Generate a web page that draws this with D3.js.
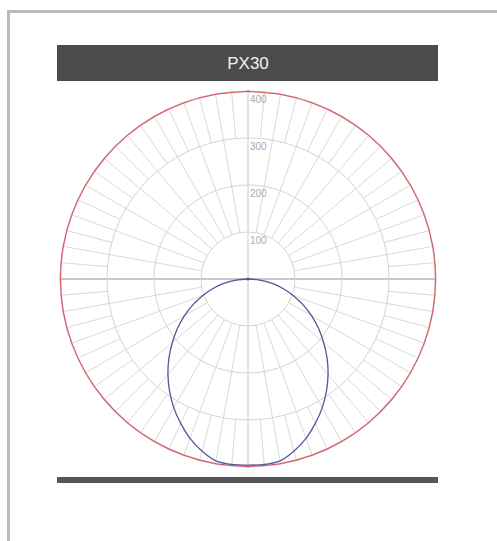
<!DOCTYPE html>
<html>
<head>
<meta charset="utf-8">
<script src="https://cdn.jsdelivr.net/npm/d3@7"></script>
<style>
  body { margin: 0; background: #fff; }
  text { font-family: "Liberation Sans", Arial, sans-serif; }
</style>
</head>
<body>
<div id="chart"></div>
<script>
// luminaire name
var title = "PX30";

// ring values (cd)
var rings = [100, 200, 300, 400];
var ringLabels = ["100", "200", "300", "400"];

// angles from nadir, degrees
var angles = [0, 5, 10, 15, 20, 25, 30, 35, 40, 45, 50, 55, 60, 65, 70, 75, 80, 85, 90];

// C0-C180 plane (blue), symmetric
var bluePlane = [396, 396, 393, 379, 361, 339, 316, 291, 265, 238, 210, 183, 156, 129, 102, 76, 51, 25, 0];

// C90-C270 plane (red), all round
var redAngles = [0, 10, 20, 30, 40, 50, 60, 70, 80, 90, 100, 110, 120, 130, 140, 150, 160, 170, 180];
var redPlane = [399, 399, 399, 399, 399, 399, 399, 399, 399, 399, 399, 399, 399, 399, 399, 399, 399, 399, 399];

var width = 497, height = 541;
var cx = 248, cy = 279;

var svg = d3.select("#chart").append("svg")
  .attr("width", width)
  .attr("height", height);

// frame
svg.append("path")
  .attr("d", "M8.5," + height + "V11.5H" + width)
  .style("fill", "none")
  .style("stroke", "#bcbcbc")
  .style("stroke-width", 3);

// title bar
svg.append("rect")
  .attr("x", 57).attr("y", 45)
  .attr("width", 381).attr("height", 36)
  .style("fill", "#4b4b4b");
svg.append("text")
  .attr("x", 248).attr("y", 69)
  .attr("text-anchor", "middle")
  .style("font-size", "17px")
  .style("fill", "#f2f2f2")
  .text(title);

// bottom bar
svg.append("rect")
  .attr("x", 57).attr("y", 477)
  .attr("width", 381).attr("height", 6)
  .style("fill", "#555");

var r = d3.scaleLinear().domain([0, 400]).range([0, 188]);

var g = svg.append("g").attr("transform", "translate(" + cx + "," + cy + ")");

function rad(deg) { return deg * Math.PI / 180; }

// radial grid lines: every 10 deg from first ring, odd 5 deg from third ring
var spokes = d3.range(0, 360, 5);
function spokeStart(a) { return a % 10 === 0 ? r(100) : r(300); }
g.selectAll(".spoke")
  .data(spokes.filter(function (a) { return a % 90 !== 0; }))
  .enter().append("line")
  .attr("class", "spoke")
  .attr("x1", function (a) { return spokeStart(a) * Math.sin(rad(a)); })
  .attr("y1", function (a) { return -spokeStart(a) * Math.cos(rad(a)); })
  .attr("x2", function (a) { return r(400) * Math.sin(rad(a)); })
  .attr("y2", function (a) { return -r(400) * Math.cos(rad(a)); })
  .style("stroke", "#d9d9d9")
  .style("stroke-width", 1);

// main axes
g.append("line")
  .attr("x1", -r(400)).attr("x2", r(400)).attr("y1", 0).attr("y2", 0)
  .style("stroke", "#c8c8c8").style("stroke-width", 2);
g.append("line")
  .attr("x1", 0).attr("x2", 0).attr("y1", -r(400)).attr("y2", r(400))
  .style("stroke", "#c8c8c8").style("stroke-width", 1);

// rings as polygons
var ringLine = d3.lineRadial().curve(d3.curveLinearClosed);
g.selectAll(".ring")
  .data(rings)
  .enter().append("path")
  .attr("class", "ring")
  .attr("d", function (v) {
    var step = v === 100 ? 10 : 5;
    return ringLine(d3.range(0, 360, step).map(function (a) { return [rad(a), r(v)]; }));
  })
  .style("fill", "none")
  .style("stroke", "#d4d4d4")
  .style("stroke-width", 1);

g.selectAll(".ringLabel")
  .data(rings)
  .enter().append("text")
  .attr("class", "ringLabel")
  .attr("x", 2)
  .attr("y", function (v) { return -r(v) + 12; })
  .style("font-size", "10px")
  .style("fill", "#aaa")
  .text(function (v, i) { return ringLabels[i]; });

var curve = d3.lineRadial()
  .angle(function (d) { return d[0]; })
  .radius(function (d) { return r(d[1]); });

// blue: from -90 through nadir to +90
var bluePts = [];
angles.slice().reverse().forEach(function (a, i) {
  bluePts.push([Math.PI + rad(a), bluePlane[angles.length - 1 - i]]);
});
angles.forEach(function (a, i) {
  if (a > 0) bluePts.push([Math.PI - rad(a), bluePlane[i]]);
});

// red: full turn
var redPts = [];
redAngles.forEach(function (a, i) { redPts.push([Math.PI - rad(a), redPlane[i]]); });
redAngles.slice().reverse().forEach(function (a, i) {
  redPts.push([Math.PI + rad(a), redPlane[redAngles.length - 1 - i]]);
});

g.append("path")
  .attr("d", curve.curve(d3.curveCardinalClosed)(redPts))
  .style("fill", "none")
  .style("stroke", "#d9606a")
  .style("stroke-width", 1.3);

g.append("path")
  .attr("d", curve.curve(d3.curveCatmullRom)(bluePts))
  .style("fill", "none")
  .style("stroke", "#4a5a9c")
  .style("stroke-width", 1.3);

g.append("circle")
  .attr("r", 1.5)
  .style("fill", "#4a5a9c");
</script>
</body>
</html>
